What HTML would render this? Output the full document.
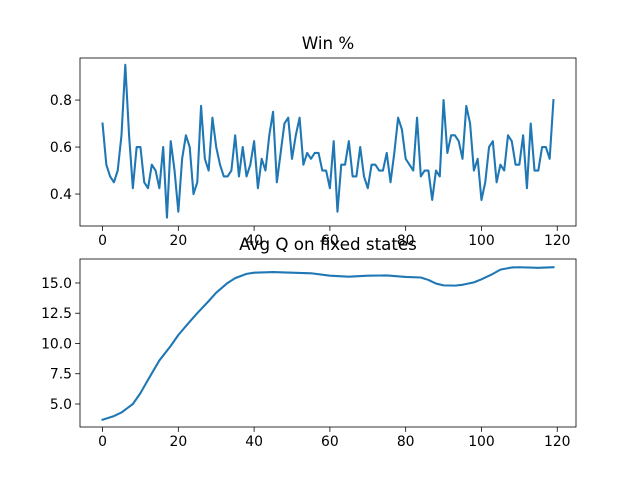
<!DOCTYPE html>
<html><head><meta charset="utf-8"><style>
body{margin:0;background:#fff}
svg{display:block;font-family:"DejaVu Sans","Liberation Sans",sans-serif}
</style></head><body>
<svg id="chart" width="640" height="480" viewBox="0 0 640 480"></svg>
<script>
const winValues=[0.70,0.525,0.475,0.45,0.50,0.65,0.95,0.65,0.425,0.60,0.60,0.45,0.425,0.525,0.50,0.425,0.60,0.30,0.625,0.50,0.325,0.55,0.65,0.60,0.40,0.45,0.775,0.55,0.50,0.725,0.60,0.525,0.475,0.475,0.50,0.65,0.475,0.60,0.475,0.525,0.625,0.425,0.55,0.50,0.65,0.75,0.45,0.575,0.70,0.725,0.55,0.65,0.725,0.525,0.575,0.55,0.575,0.575,0.50,0.50,0.425,0.625,0.325,0.525,0.525,0.625,0.475,0.475,0.60,0.475,0.425,0.525,0.525,0.50,0.50,0.575,0.45,0.575,0.725,0.675,0.55,0.525,0.50,0.725,0.475,0.50,0.50,0.375,0.50,0.475,0.80,0.575,0.65,0.65,0.625,0.55,0.775,0.70,0.50,0.55,0.375,0.45,0.60,0.625,0.45,0.525,0.50,0.65,0.625,0.525,0.525,0.65,0.425,0.70,0.50,0.50,0.60,0.60,0.55,0.80];
const qX=[0,3,5,8,10,12,15,18,20,23,25,28,30,33,35,38,40,45,50,55,60,65,70,75,80,84,86,88,90,93,95,98,100,103,105,108,110,115,119];
const qValues=[3.7,4.0,4.3,5.0,5.9,7.0,8.6,9.8,10.7,11.8,12.5,13.5,14.2,15.0,15.4,15.75,15.85,15.9,15.85,15.8,15.6,15.52,15.6,15.62,15.5,15.45,15.25,14.95,14.8,14.78,14.85,15.05,15.3,15.75,16.1,16.28,16.3,16.25,16.3];
const winTicksY=[0.4,0.6,0.8], qTicksY=[5.0,7.5,10.0,12.5,15.0], xTicks=[0,20,40,60,80,100,120];
const NS='http://www.w3.org/2000/svg', svg=document.getElementById('chart');
function el(t,a,p){const e=document.createElementNS(NS,t);for(const k in a)e.setAttribute(k,a[k]);(p||svg).appendChild(e);return e;}
const L=80,R=576,xmin=-5.95,xmax=124.95;
const sx=v=>L+(v-xmin)/(xmax-xmin)*(R-L);
function panel(top,bot,ymin,ymax,yt,fmt,title,name,xs,ys){
  const g=el('g',{});
  
  
  const sy=v=>bot-(v-ymin)/(ymax-ymin)*(bot-top);
  const t=el('text',{x:(L+R)/2,y:top-9,'text-anchor':'middle','font-size':'16.7'},g);t.textContent=title;
  
  
  xTicks.forEach(v=>{const x=sx(v);el('line',{x1:x,x2:x,y1:bot,y2:bot+4.9,stroke:'#000','stroke-width':0.8},g);
    const tx=el('text',{x:x,y:bot+19,'text-anchor':'middle','font-size':'13.9'},g);tx.textContent=v;
    
    });
  yt.forEach(v=>{const y=sy(v);el('line',{x1:L-4.9,x2:L,y1:y,y2:y,stroke:'#000','stroke-width':0.8},g);
    const tx=el('text',{x:L-8,y:y+5,'text-anchor':'end','font-size':'13.9'},g);tx.textContent=fmt(v);
    
    });
  const d=ys.map((v,i)=>(i?'L':'M')+sx(xs[i]).toFixed(2)+','+sy(v).toFixed(2)).join('');
  const p=el('path',{d:d,fill:'none',stroke:'#1f77b4','stroke-width':2.08,'stroke-linejoin':'round','stroke-linecap':'square'},g);
  
  
  el('rect',{x:L,y:top,width:R-L,height:bot-top,fill:'none',stroke:'#000','stroke-width':0.8},g);
}
panel(58,226,0.264,0.979,winTicksY,v=>v.toFixed(1),'Win %','win-panel',winValues.map((_,i)=>i),winValues);
panel(259,427,3.10,16.98,qTicksY,v=>v.toFixed(1),'Avg Q on fixed states','avg-q-panel',qX,qValues);
</script>
</body></html>
